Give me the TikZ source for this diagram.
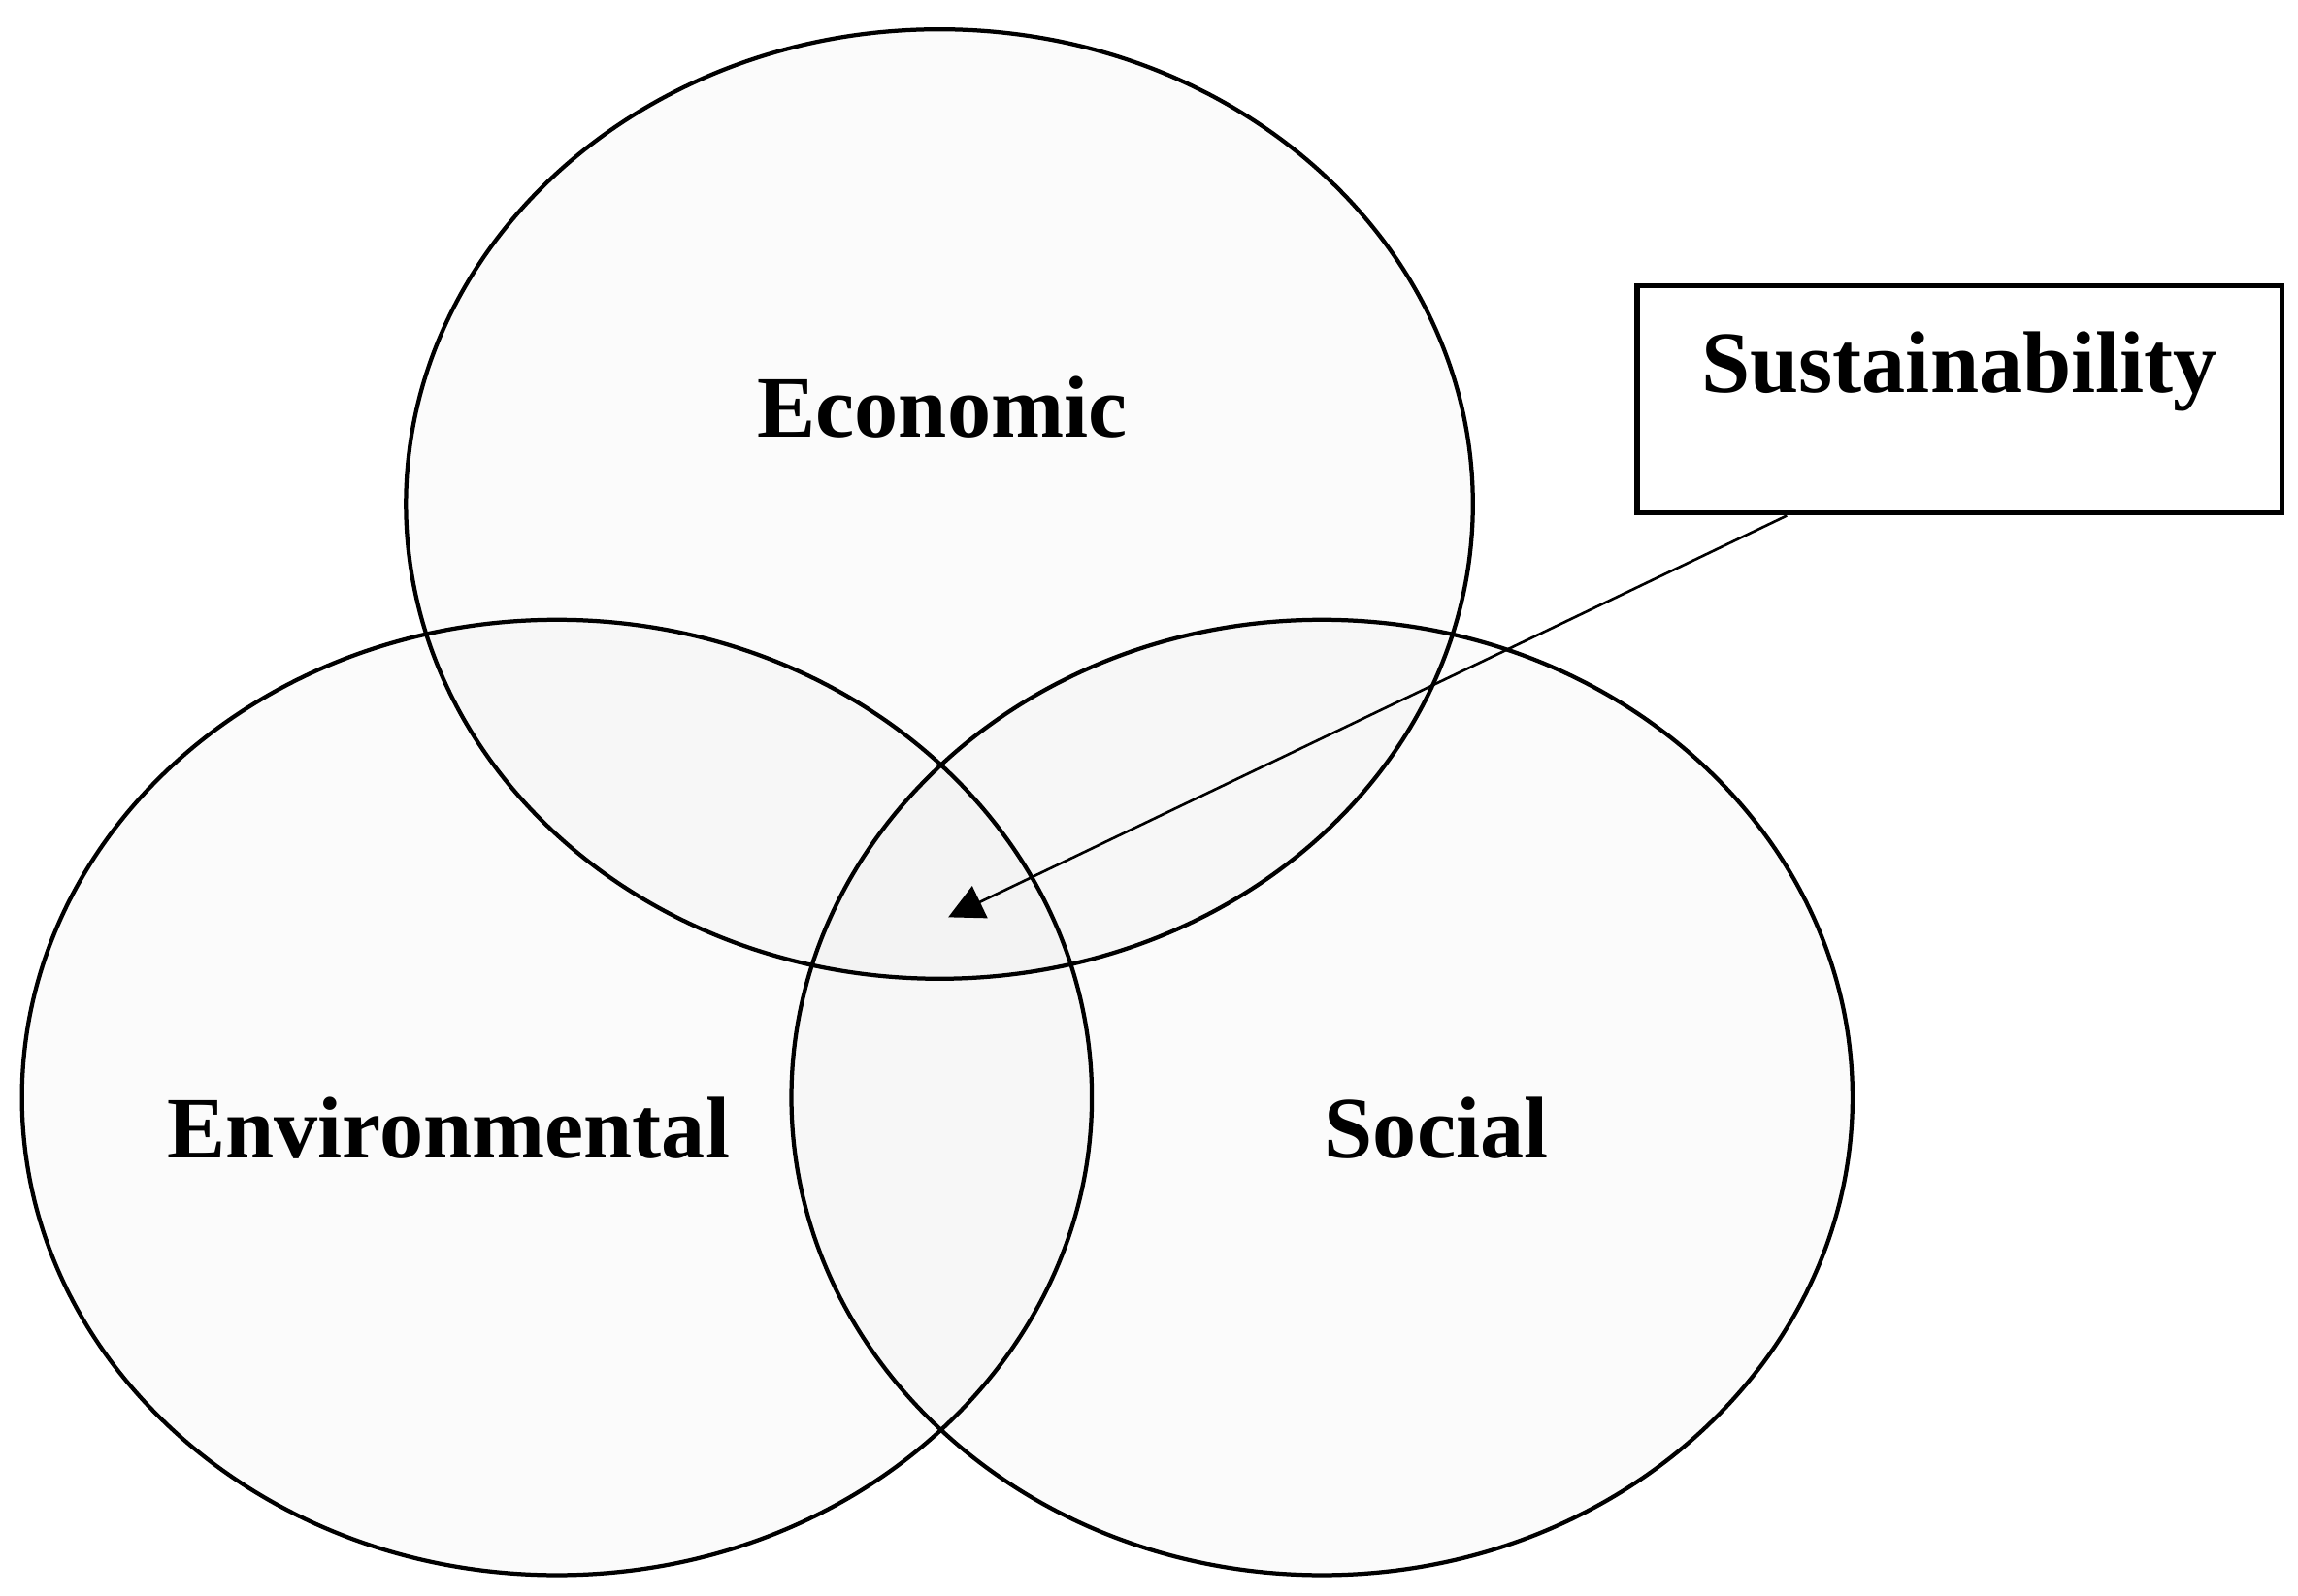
\documentclass[tikz,border=0pt]{standalone}
\usepackage{fontspec}
\setmainfont{Liberation Serif}
\usetikzlibrary{shapes.geometric,arrows.meta}

\begin{document}
\begin{tikzpicture}[line width=0.8pt,
                    pillar/.style={ellipse,draw,fill=black,fill opacity=0.016,draw opacity=1,inner sep=0pt},
                    word/.style={font=\fontsize{17}{20}\selectfont\bfseries}]

  \useasboundingbox (0,0) rectangle (15.68,10.89);

  % three pillars
  \node[pillar,minimum width=7.28cm,minimum height=6.48cm] (eco) at (6.41,7.45) {};
  \node[pillar,minimum width=7.30cm,minimum height=6.52cm] (env) at (3.80,3.40) {};
  \node[pillar,minimum width=7.24cm,minimum height=6.52cm] (soc) at (9.02,3.40) {};

  \node[word] (ecotext) at (6.43,8.11) {Economic};
  \node[word] (envtext) at (3.06,3.19) {Environmental};
  \node[word] (soctext) at (9.80,3.19) {Social};

  % callout
  \node[word,draw,line width=1.1pt,minimum width=4.40cm,minimum height=1.55cm,
        text height=0.36cm,text depth=0.45cm] (sust) at (13.37,8.165) {Sustainability};
  \coordinate (core) at (6.47,4.63);

  \draw[line width=0.5pt,-{Triangle[length=0.24cm,width=0.24cm]}] (sust.214) -- (core);

\end{tikzpicture}
\end{document}
